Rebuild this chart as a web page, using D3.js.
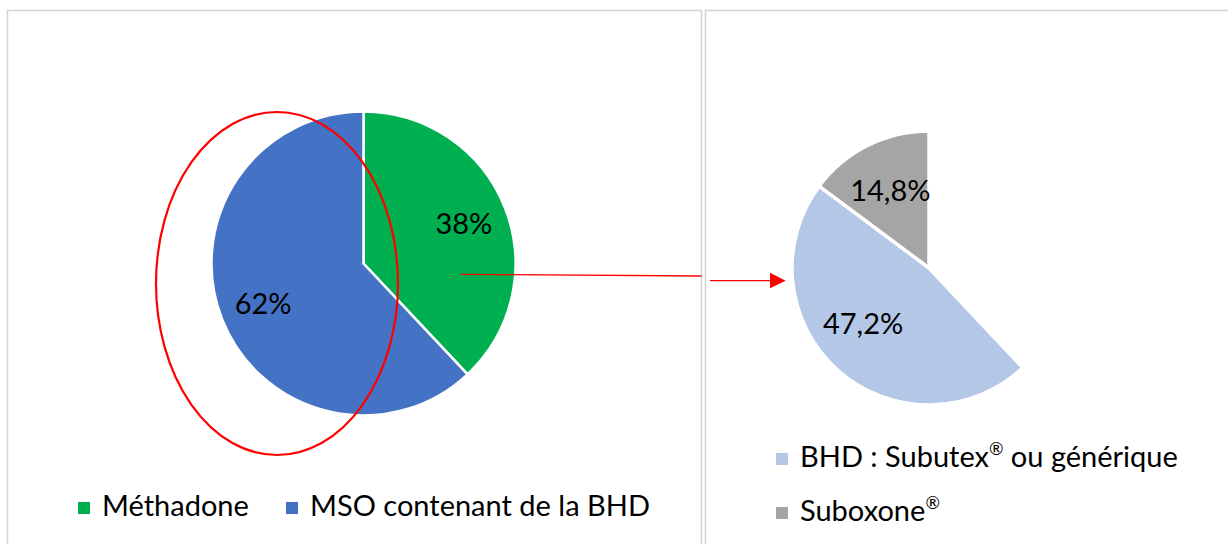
<!DOCTYPE html>
<html>
<head>
<meta charset="utf-8">
<script src="https://cdn.jsdelivr.net/npm/d3@7/dist/d3.min.js"></script>
<style>
  html, body { margin: 0; padding: 0; background: #ffffff; }
  svg { display: block; font-family: Lato, "Open Sans", sans-serif; }
</style>
</head>
<body>
<svg id="chart" width="1228" height="544"></svg>
<script>
// ---- data ----
const mainCategories = ["Méthadone", "MSO contenant de la BHD"];
const mainValues = [38, 62];
const mainLabels = ["38%", "62%"];
const mainColors = ["#00B050", "#4472C4"];

const subCategories = ["BHD : Subutex® ou générique", "Suboxone®"];
const subValues = [47.2, 14.8];
const subLabels = ["47,2%", "14,8%"];
const subColors = ["#B4C7E7", "#A5A5A5"];

// ---- layout ----
const svg = d3.select("#chart");

// panels
svg.append("rect").attr("x", 7.5).attr("y", 10.5).attr("width", 694).attr("height", 560)
  .attr("fill", "#fff").attr("stroke", "#d4d4d4").attr("stroke-width", 1.6);
svg.append("rect").attr("x", 705.5).attr("y", 10.5).attr("width", 560).attr("height", 560)
  .attr("fill", "#fff").attr("stroke", "#d4d4d4").attr("stroke-width", 1.6);

// writes text, rendering "®" as a small superscript
function richText(sel, str) {
  const parts = str.split("®");
  parts.forEach((p, i) => {
    if (p.length) sel.append("tspan").text(p);
    if (i < parts.length - 1) {
      sel.append("tspan").attr("font-size", "0.6em").attr("baseline-shift", "0.7em").text("®");
    }
  });
}

// ---- main pie ----
const mainCx = 363.5, mainCy = 263.5, mainR = 152;
const pie = d3.pie().sort(null).value(d => d.value);
const mainData = pie(mainCategories.map((c, i) => ({ cat: c, value: mainValues[i], label: mainLabels[i], color: mainColors[i] })));
const mainArc = d3.arc().innerRadius(0).outerRadius(mainR);
const mainLabelArc = d3.arc().innerRadius(mainR * 0.71).outerRadius(mainR * 0.71);

const gMain = svg.append("g").attr("transform", `translate(${mainCx},${mainCy})`);
gMain.selectAll("path").data(mainData).join("path")
  .attr("d", mainArc).attr("fill", d => d.data.color)
  .attr("stroke", "#fff").attr("stroke-width", 2.5).attr("stroke-linejoin", "miter");
gMain.selectAll("text").data(mainData).join("text")
  .attr("transform", d => `translate(${mainLabelArc.centroid(d)})`)
  .attr("text-anchor", "middle").attr("dy", "0.36em")
  .attr("font-size", 29).attr("fill", "#000")
  .text(d => d.data.label);

// ---- sub pie (breakdown of the MSO share) ----
const subCx = 929, subCy = 268, subR = 137;
const subPieData = pie([{ cat: mainCategories[0], value: mainValues[0], hidden: true }]
  .concat(subCategories.map((c, i) => ({ cat: c, value: subValues[i], label: subLabels[i], color: subColors[i] }))));
const subArc = d3.arc().innerRadius(0).outerRadius(subR);
const subLabelArc = d3.arc().innerRadius(subR * 0.62).outerRadius(subR * 0.62);
const gSub = svg.append("g").attr("transform", `translate(${subCx},${subCy})`);
const visibleSub = subPieData.filter(d => !d.data.hidden);
gSub.selectAll("path").data(visibleSub).join("path")
  .attr("d", subArc).attr("fill", d => d.data.color)
  .attr("stroke", "#fff").attr("stroke-width", 3.5).attr("stroke-linejoin", "miter");
gSub.selectAll("text").data(visibleSub).join("text")
  .attr("transform", d => {
    // best-fit style placement: slightly rotate the label toward the open side
    const a = (d.startAngle + d.endAngle) / 2 + (d.endAngle - d.startAngle > 2 ? 0.14 : 0);
    const r = subR * 0.63;
    return `translate(${r * Math.sin(a)},${-r * Math.cos(a)})`;
  })
  .attr("text-anchor", "middle").attr("dy", "0.36em")
  .attr("font-size", 29).attr("fill", "#000")
  .text(d => d.data.label);

// ---- annotations ----
svg.append("ellipse").attr("cx", 277).attr("cy", 283.5).attr("rx", 121).attr("ry", 171.5)
  .attr("fill", "none").attr("stroke", "#FF0000").attr("stroke-width", 2.2);
svg.append("line").attr("x1", 460.5).attr("y1", 274.3).attr("x2", 701.5).attr("y2", 276)
  .attr("stroke", "#FF0000").attr("stroke-width", 1.3);
svg.append("line").attr("x1", 710).attr("y1", 280.7).attr("x2", 772).attr("y2", 280.7)
  .attr("stroke", "#FF0000").attr("stroke-width", 1.3);
svg.append("path").attr("d", "M770,272.7 L785.7,280.7 L770,288.3 Z").attr("fill", "#FF0000");

// ---- legends ----
const legMain = svg.append("g");
const legMainX = [78, 286];
mainCategories.forEach((c, i) => {
  legMain.append("rect").attr("x", legMainX[i]).attr("y", 502).attr("width", 12).attr("height", 12).attr("fill", mainColors[i]);
  legMain.append("text").attr("x", legMainX[i] + 24).attr("y", 516).attr("font-size", 29).attr("fill", "#000").text(c);
});
const legSub = svg.append("g");
const legSubY = [467, 521];
subCategories.forEach((c, i) => {
  legSub.append("rect").attr("x", 776).attr("y", legSubY[i] - 14).attr("width", 12).attr("height", 12).attr("fill", subColors[i]);
  const t = legSub.append("text").attr("x", 800).attr("y", legSubY[i]).attr("font-size", 29).attr("fill", "#000");
  richText(t, c);
});
</script>
</body>
</html>
